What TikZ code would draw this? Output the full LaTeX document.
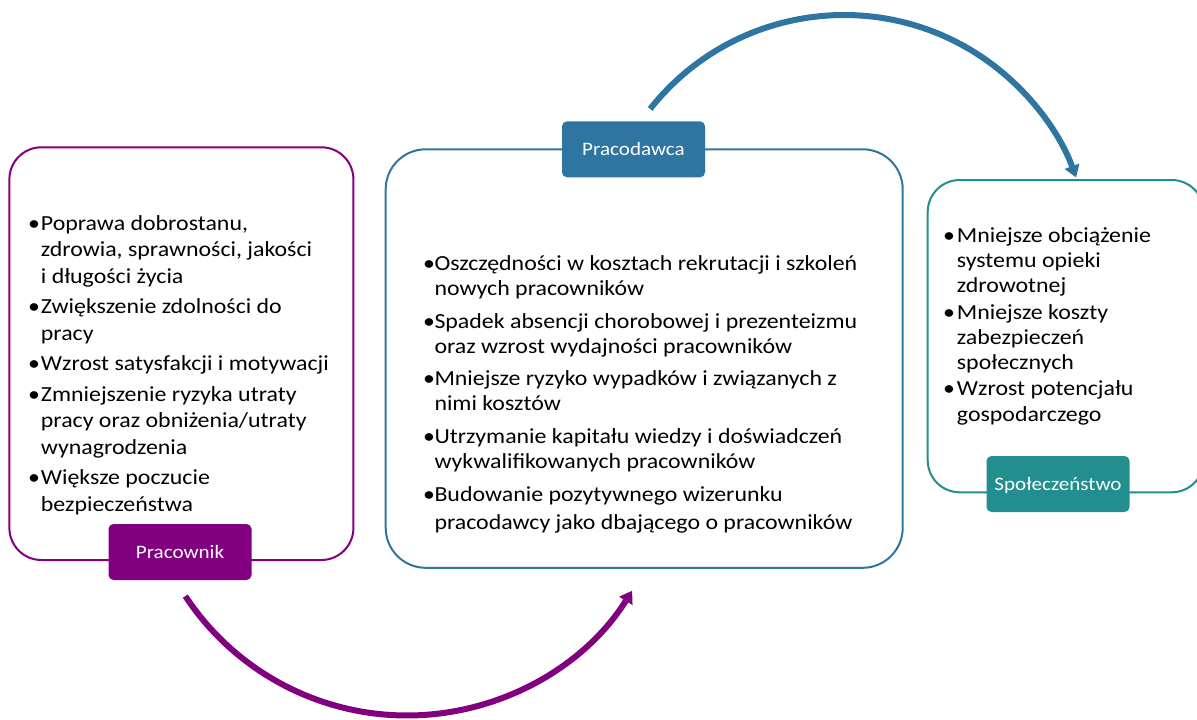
\documentclass[tikz,border=0pt]{standalone}
\usepackage{fontspec}
\setmainfont{Carlito}[FakeStretch=1.11]
\usetikzlibrary{arrows.meta}
\definecolor{pur}{HTML}{800080}
\definecolor{blu}{HTML}{2E75A2}
\definecolor{tea}{HTML}{238E8E}
\newlength{\bw}
\newcommand{\itm}[1]{\hbox{\makebox[\bw][l]{•}#1}}
\newcommand{\cnt}[1]{\hbox{\hspace{\bw}#1}}
\begin{document}
\begin{tikzpicture}[x=1pt,y=-1pt,
  panel/.style={draw=#1, line width=2pt, inner sep=0pt, outer sep=0pt, anchor=north west},
  tag/.style={fill=#1, draw=none, rounded corners=5pt, text=white, inner sep=0pt, minimum width=143pt,
    minimum height=56pt, text height=12pt, text depth=0pt, font=\fontsize{19}{22}\selectfont},
  body/.style={anchor=base west, inner sep=0pt, text=black, font=\fontsize{21.5}{26.5}\selectfont},
  flow/.style={draw=#1, line width=6pt, -{Triangle[length=12pt,width=15pt,fill=#1]}}]
\useasboundingbox (0,0) rectangle (1197,720);
\clip (0,0) rectangle (1197,720);
\fill[white] (0,0) rectangle (1197,720);

% panels
\node[panel=pur, rounded corners=32pt, minimum width=344pt, minimum height=412.7pt] (boxL) at (9.4,147.3) {};
\node[panel=blu, rounded corners=40pt, minimum width=517pt, minimum height=418.5pt] (boxM) at (385.7,149.3) {};
\node[panel=tea, rounded corners=32pt, minimum width=276pt, minimum height=312.3pt] (boxR) at (927.7,180) {};

% texts
\node[body] (txtL) at (28,230) {\setlength{\bw}{12.7pt}\vtop{\baselineskip=26.5pt\lineskiplimit=-100pt
  \itm{Poprawa dobrostanu,}
  \cnt{zdrowia, sprawności, jakości}
  \cnt{i długości życia}\vskip4pt
  \itm{Zwiększenie zdolności do}
  \cnt{pracy}\vskip4pt
  \itm{Wzrost satysfakcji i motywacji}\vskip4pt
  \itm{Zmniejszenie ryzyka utraty}
  \cnt{pracy oraz obniżenia/utraty}
  \cnt{wynagrodzenia}\vskip4pt
  \itm{Większe poczucie}
  \cnt{bezpieczeństwa}}};

\node[body] (txtM) at (423,270.7) {\setlength{\bw}{11.3pt}\vtop{\baselineskip=25pt\lineskiplimit=-100pt
  \itm{Oszczędności w kosztach rekrutacji i szkoleń}
  \cnt{nowych pracowników}\vskip7.6pt
  \itm{Spadek absencji chorobowej i prezenteizmu}
  \cnt{oraz wzrost wydajności pracowników}\vskip7.6pt
  \itm{Mniejsze ryzyko wypadków i związanych z}
  \cnt{nimi kosztów}\vskip7.6pt
  \itm{Utrzymanie kapitału wiedzy i doświadczeń}
  \cnt{wykwalifikowanych pracowników}\vskip7.6pt
  \itm{Budowanie pozytywnego wizerunku}\vskip3pt
  \cnt{pracodawcy jako dbającego o pracowników}}};

\node[body] (txtR) at (943,242.3) {\setlength{\bw}{13.7pt}\vtop{\baselineskip=25.3pt\lineskiplimit=-100pt
  \itm{Mniejsze obciążenie}
  \cnt{systemu opieki}
  \cnt{zdrowotnej}\vskip0.8pt
  \itm{Mniejsze koszty}
  \cnt{zabezpieczeń}
  \cnt{społecznych}\vskip0.8pt
  \itm{Wzrost potencjału}
  \cnt{gospodarczego}}};

% tags
\node[tag=pur] (tagL) at (180,552) {Pracownik};
\node[tag=blu] (tagM) at (633.5,149.3) {Pracodawca};
\node[tag=tea] (tagR) at (1058,484) {Społeczeństwo};

% arrows
\coordinate (ctop) at (844,262);
\coordinate (cbot) at (407,450);
\draw[flow=blu] (ctop) ++(-141.7:247) arc[start angle=-141.7, end angle=-20, radius=247];
\draw[flow=pur] (cbot) ++(146.6:265.5) arc[start angle=146.6, end angle=32, radius=265.5];
\end{tikzpicture}
\end{document}
